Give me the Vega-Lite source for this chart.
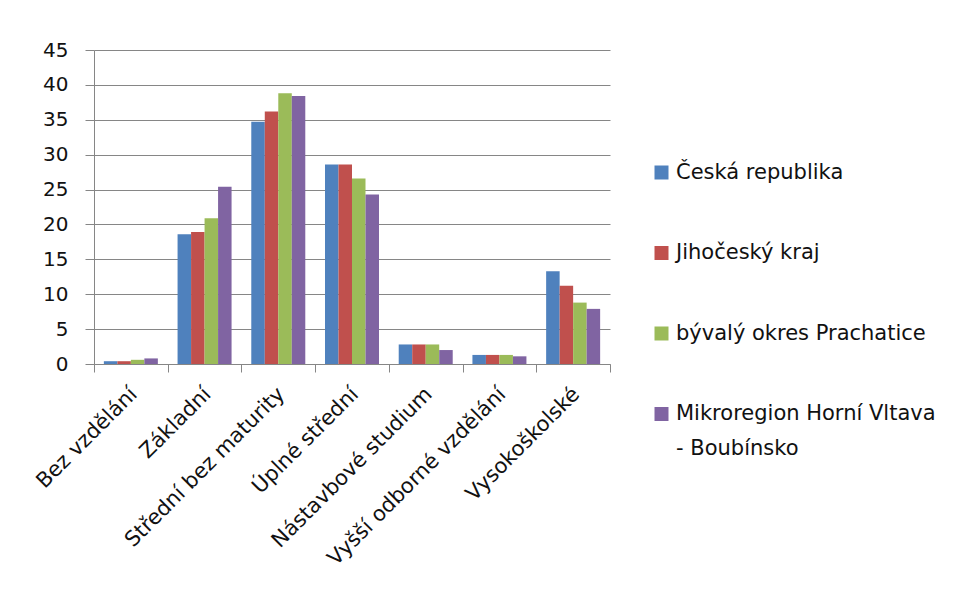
{
  "$schema": "https://vega.github.io/schema/vega-lite/v6.json",
  "description": "Vzdělanostní struktura obyvatel (%) podle území – seskupený sloupcový graf",
  "width": 516,
  "height": 314,
  "autosize": {"type": "none"},
  "padding": {"left": 94, "top": 50, "right": 356, "bottom": 231},
  "background": "white",
  "data": {
    "values": [
      {"vzdelani": "Bez vzdělání", "uzemi": "Česká republika", "podil": 0.4},
      {"vzdelani": "Bez vzdělání", "uzemi": "Jihočeský kraj", "podil": 0.4},
      {"vzdelani": "Bez vzdělání", "uzemi": "bývalý okres Prachatice", "podil": 0.6},
      {"vzdelani": "Bez vzdělání", "uzemi": "Mikroregion Horní Vltava - Boubínsko", "podil": 0.8},
      {"vzdelani": "Základní", "uzemi": "Česká republika", "podil": 18.6},
      {"vzdelani": "Základní", "uzemi": "Jihočeský kraj", "podil": 18.9},
      {"vzdelani": "Základní", "uzemi": "bývalý okres Prachatice", "podil": 20.9},
      {"vzdelani": "Základní", "uzemi": "Mikroregion Horní Vltava - Boubínsko", "podil": 25.4},
      {"vzdelani": "Střední bez maturity", "uzemi": "Česká republika", "podil": 34.7},
      {"vzdelani": "Střední bez maturity", "uzemi": "Jihočeský kraj", "podil": 36.2},
      {"vzdelani": "Střední bez maturity", "uzemi": "bývalý okres Prachatice", "podil": 38.8},
      {"vzdelani": "Střední bez maturity", "uzemi": "Mikroregion Horní Vltava - Boubínsko", "podil": 38.4},
      {"vzdelani": "Úplné střední", "uzemi": "Česká republika", "podil": 28.6},
      {"vzdelani": "Úplné střední", "uzemi": "Jihočeský kraj", "podil": 28.6},
      {"vzdelani": "Úplné střední", "uzemi": "bývalý okres Prachatice", "podil": 26.6},
      {"vzdelani": "Úplné střední", "uzemi": "Mikroregion Horní Vltava - Boubínsko", "podil": 24.3},
      {"vzdelani": "Nástavbové studium", "uzemi": "Česká republika", "podil": 2.8},
      {"vzdelani": "Nástavbové studium", "uzemi": "Jihočeský kraj", "podil": 2.8},
      {"vzdelani": "Nástavbové studium", "uzemi": "bývalý okres Prachatice", "podil": 2.8},
      {"vzdelani": "Nástavbové studium", "uzemi": "Mikroregion Horní Vltava - Boubínsko", "podil": 2.0},
      {"vzdelani": "Vyšší odborné vzdělání", "uzemi": "Česká republika", "podil": 1.3},
      {"vzdelani": "Vyšší odborné vzdělání", "uzemi": "Jihočeský kraj", "podil": 1.3},
      {"vzdelani": "Vyšší odborné vzdělání", "uzemi": "bývalý okres Prachatice", "podil": 1.3},
      {"vzdelani": "Vyšší odborné vzdělání", "uzemi": "Mikroregion Horní Vltava - Boubínsko", "podil": 1.1},
      {"vzdelani": "Vysokoškolské", "uzemi": "Česká republika", "podil": 13.3},
      {"vzdelani": "Vysokoškolské", "uzemi": "Jihočeský kraj", "podil": 11.2},
      {"vzdelani": "Vysokoškolské", "uzemi": "bývalý okres Prachatice", "podil": 8.8},
      {"vzdelani": "Vysokoškolské", "uzemi": "Mikroregion Horní Vltava - Boubínsko", "podil": 7.9}
    ]
  },
  "mark": {"type": "bar"},
  "encoding": {
    "x": {
      "field": "vzdelani",
      "type": "nominal",
      "sort": ["Bez vzdělání", "Základní", "Střední bez maturity", "Úplné střední", "Nástavbové studium", "Vyšší odborné vzdělání", "Vysokoškolské"],
      "scale": {"paddingInner": 0, "paddingOuter": 0},
      "axis": {
        "title": null,
        "tickBand": "extent",
        "tickSize": 8,
        "tickColor": "#868686",
        "domainColor": "#868686",
        "labelAngle": -45,
        "labelAlign": "right",
        "labelBaseline": "top",
        "labelPadding": 11,
        "labelOffset": -5,
        "labelFontSize": 21,
        "labelColor": "#111111",
        "labelLimit": 400
      }
    },
    "xOffset": {
      "field": "uzemi",
      "type": "nominal",
      "sort": ["Česká republika", "Jihočeský kraj", "bývalý okres Prachatice", "Mikroregion Horní Vltava - Boubínsko"],
      "scale": {"paddingInner": 0, "paddingOuter": 0.73}
    },
    "y": {
      "field": "podil",
      "type": "quantitative",
      "scale": {"domain": [0, 45], "nice": false},
      "axis": {
        "title": null,
        "values": [0, 5, 10, 15, 20, 25, 30, 35, 40, 45],
        "grid": true,
        "gridColor": "#868686",
        "tickSize": 9,
        "tickColor": "#868686",
        "domainColor": "#868686",
        "labelFontSize": 20,
        "labelPadding": 17,
        "labelColor": "#111111"
      }
    },
    "color": {
      "field": "uzemi",
      "type": "nominal",
      "sort": ["Česká republika", "Jihočeský kraj", "bývalý okres Prachatice", "Mikroregion Horní Vltava - Boubínsko"],
      "scale": {
        "domain": ["Česká republika", "Jihočeský kraj", "bývalý okres Prachatice", "Mikroregion Horní Vltava - Boubínsko"],
        "range": ["#4F81BD", "#C0504D", "#9BBB59", "#8064A2"]
      },
      "legend": {
        "title": null,
        "orient": "none",
        "legendX": 557,
        "legendY": 112,
        "padding": 0,
        "symbolType": "square",
        "symbolSize": 196,
        "symbolStrokeWidth": 0,
        "labelFontSize": 21,
        "labelColor": "#111111",
        "labelOffset": 4,
        "labelLimit": 400,
        "rowPadding": 58.5,
        "labelExpr": "datum.label == 'Mikroregion Horní Vltava - Boubínsko' ? ['Mikroregion Horní Vltava', '- Boubínsko'] : datum.label"
      }
    }
  },
  "config": {
    "font": "DejaVu Sans",
    "view": {"stroke": null},
    "axis": {"labelFont": "DejaVu Sans"},
    "legend": {"labelFont": "DejaVu Sans"},
    "style": {"guide-label": {"lineHeight": 35}}
  }
}
